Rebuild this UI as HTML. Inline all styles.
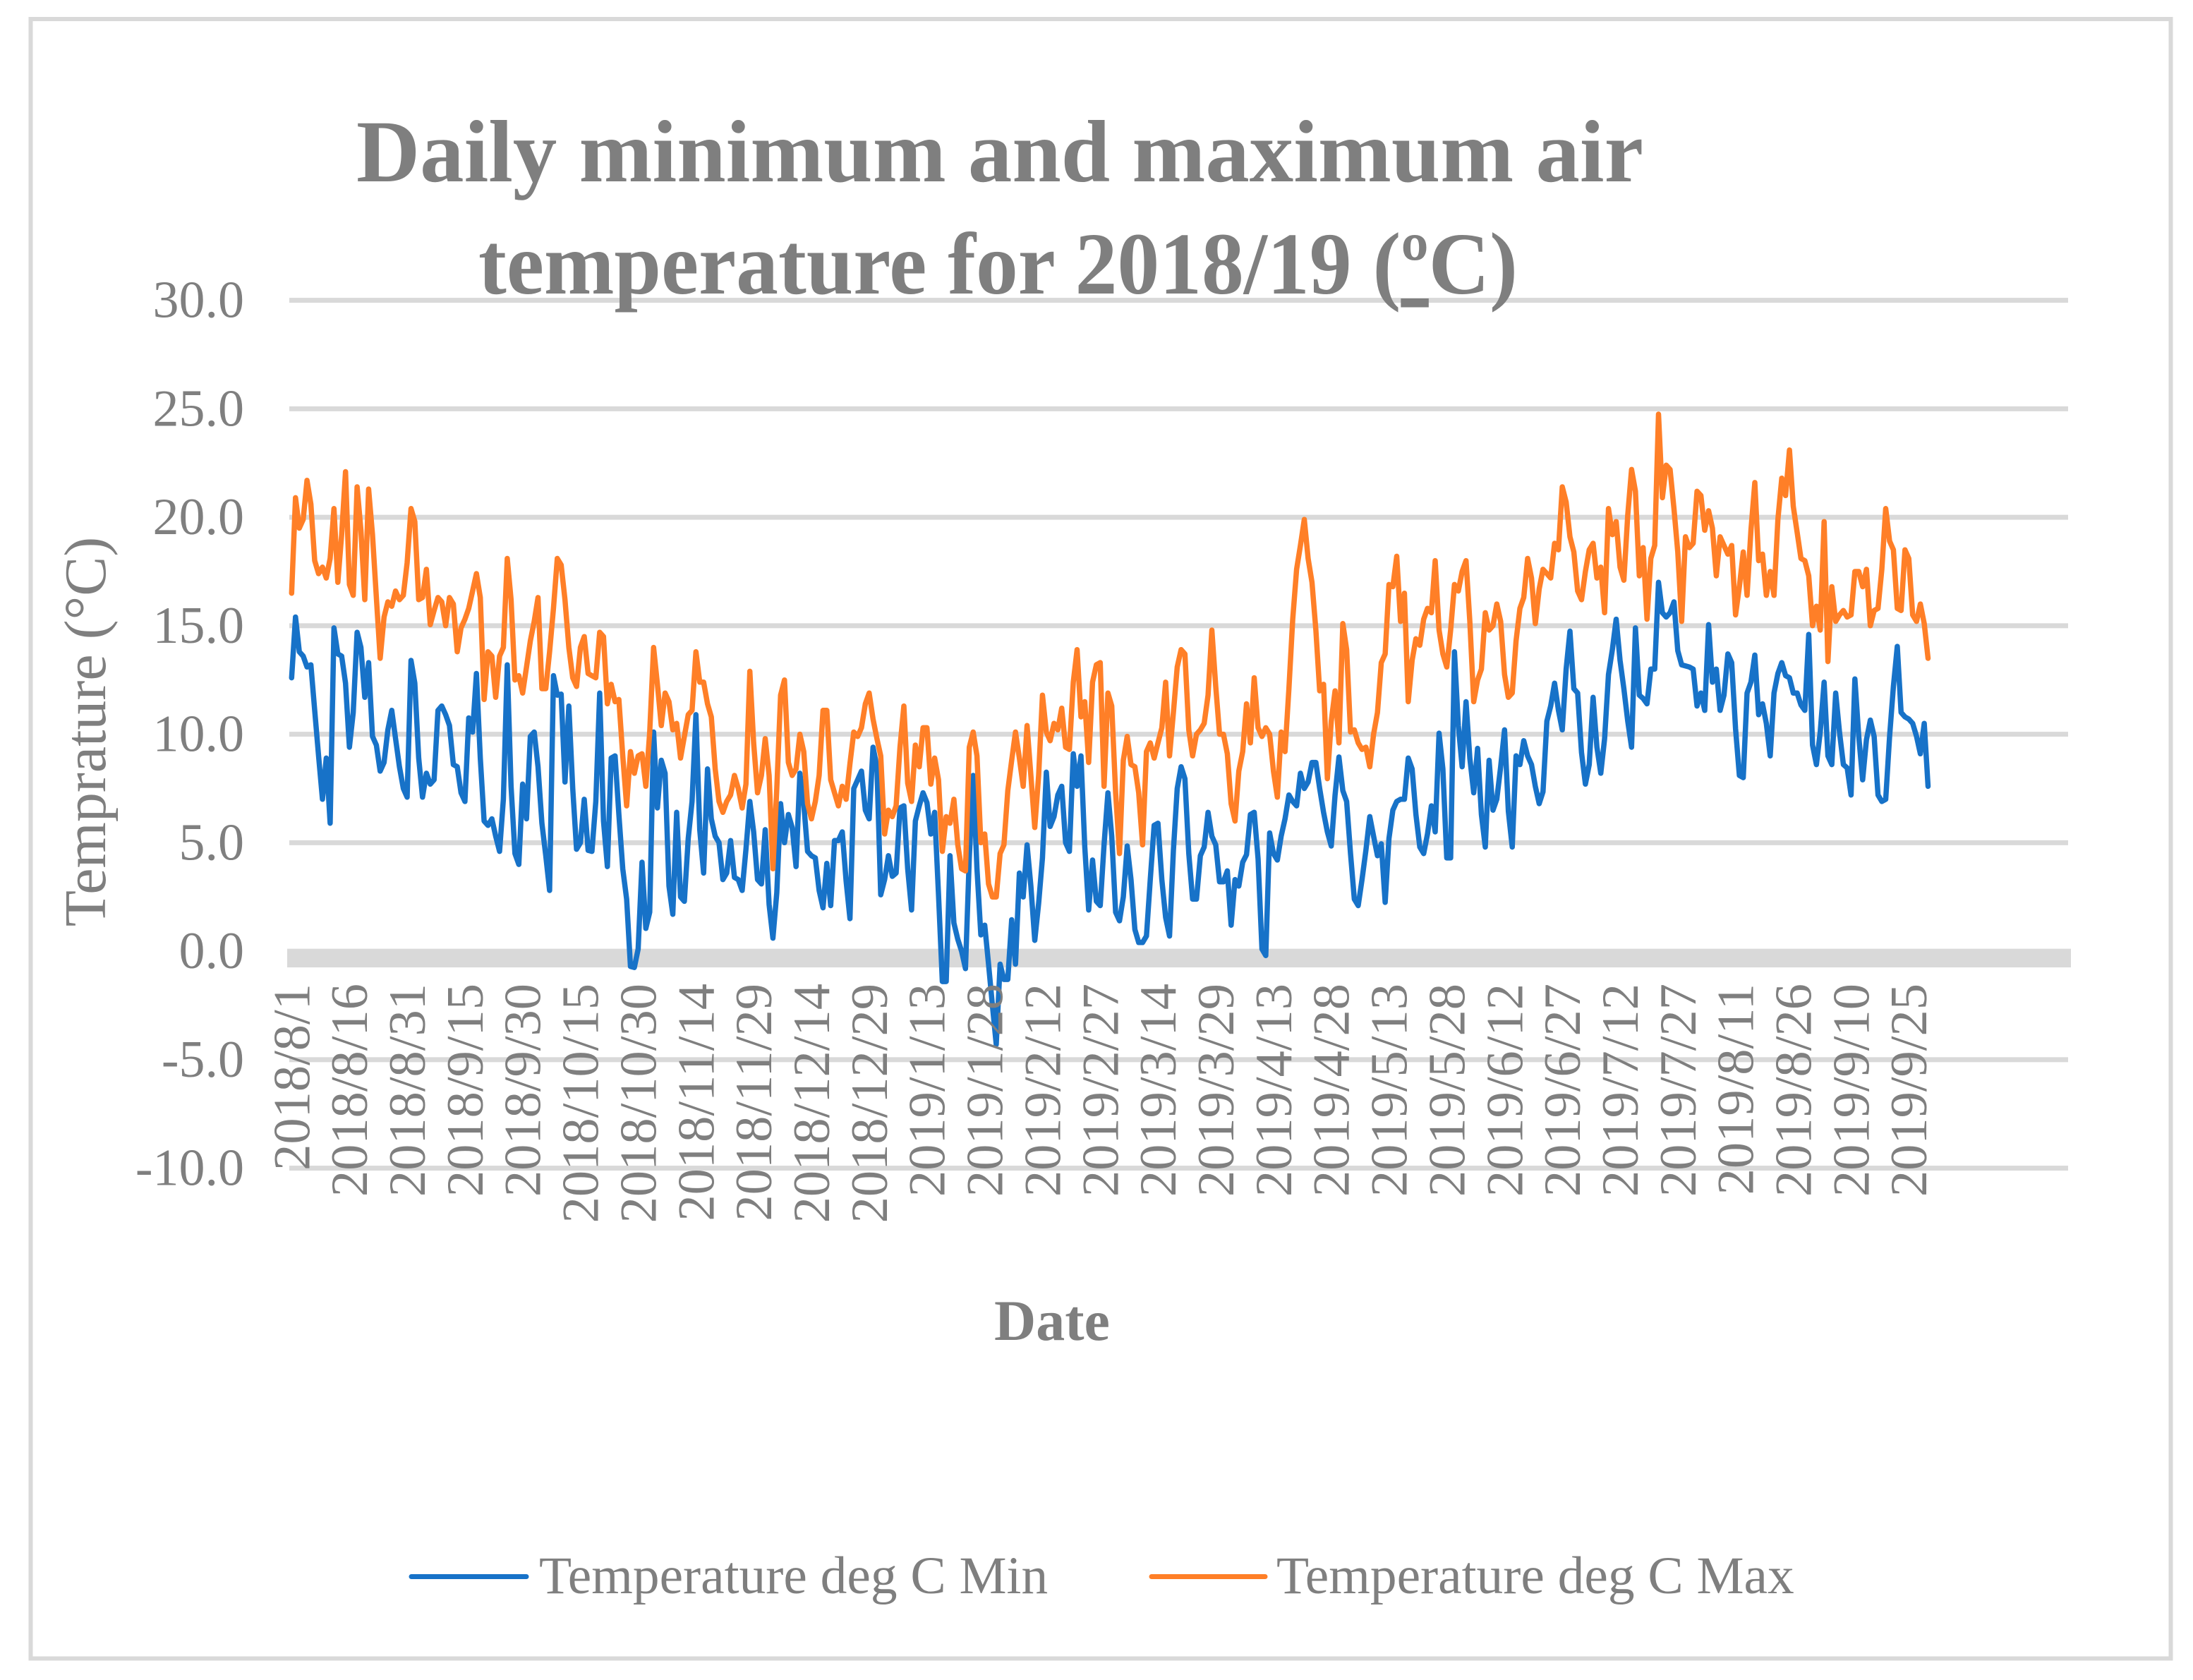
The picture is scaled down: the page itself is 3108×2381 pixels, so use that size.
<!DOCTYPE html>
<html lang="en">
<head>
<meta charset="utf-8">
<title>Daily minimum and maximum air temperature for 2018/19</title>
<style>
  html, body { margin: 0; padding: 0; background: #ffffff; }
  svg { display: block; }
  text { font-family: "Liberation Serif", serif; fill: #7f7f7f; }
</style>
</head>
<body>
<svg id="chart" xmlns="http://www.w3.org/2000/svg" width="3108" height="2381" viewBox="0 0 3108 2381">
  <rect x="0" y="0" width="3108" height="2381" fill="#ffffff"/>
  <rect x="43.5" y="27" width="3033" height="2323.5" fill="none" stroke="#d9d9d9" stroke-width="6"/>
  <g id="grid"></g>
  <g id="series"></g>
  <g id="yticks"></g>
  <g id="xticks"></g>
  <text x="505" y="257" font-size="125" font-weight="700" textLength="1824" lengthAdjust="spacingAndGlyphs">Daily minimum and maximum air</text>
  <text x="678" y="416" font-size="125" font-weight="700" textLength="1473" lengthAdjust="spacingAndGlyphs">temperature for 2018/19 (<tspan text-decoration="underline">º</tspan>C)</text>
  <text transform="translate(149 1037) rotate(-90)" font-size="84" text-anchor="middle">Temprature (°C)</text>
  <text x="1491" y="1899" font-size="82" font-weight="700" text-anchor="middle">Date</text>
  <g>
    <line x1="583" y1="2234.5" x2="746" y2="2234.5" stroke="#1772c8" stroke-width="7" stroke-linecap="round"/>
    <text x="764" y="2258" font-size="75.4">Temperature deg C Min</text>
    <line x1="1632" y1="2234.5" x2="1793" y2="2234.5" stroke="#ff7f27" stroke-width="7" stroke-linecap="round"/>
    <text x="1809" y="2258" font-size="75.4">Temperature deg C Max</text>
  </g>
</svg>
<script>
const tickStep = 15;
const xTickLabels = ["2018/8/1","2018/8/16","2018/8/31","2018/9/15","2018/9/30","2018/10/15","2018/10/30","2018/11/14","2018/11/29","2018/12/14","2018/12/29","2019/1/13","2019/1/28","2019/2/12","2019/2/27","2019/3/14","2019/3/29","2019/4/13","2019/4/28","2019/5/13","2019/5/28","2019/6/12","2019/6/27","2019/7/12","2019/7/27","2019/8/11","2019/8/26","2019/9/10","2019/9/25"];
const yTickValues = [30,25,20,15,10,5,0,-5,-10];
const tempMin = [
12.6,15.4,13.8,13.6,13.1,13.2,11.1,9.0,7.0,8.9,
5.9,14.9,13.7,13.6,12.35,9.4,11.0,14.7,14.0,11.7,
13.3,9.9,9.5,8.3,8.7,10.2,11.1,9.8,8.5,7.5,
7.1,13.4,12.35,8.9,7.1,8.2,7.7,7.9,11.1,11.3,
10.9,10.4,8.6,8.5,7.3,6.9,10.75,10.1,12.8,8.9,
6.0,5.8,6.1,5.3,4.6,7.0,13.2,7.6,4.5,4.0,
7.7,6.1,9.9,10.1,8.5,5.9,4.4,2.8,12.7,11.8,
11.85,7.8,11.3,7.5,4.7,5.0,7.0,4.65,4.6,6.9,
11.9,6.0,3.9,8.9,9.0,6.3,3.8,2.4,-0.7,-0.75,
0.1,4.1,1.05,1.8,10.1,6.6,8.8,8.2,3.0,1.7,
6.4,2.5,2.3,5.2,6.9,10.9,5.6,3.6,8.4,6.1,
5.3,5.0,3.3,3.6,5.1,3.4,3.3,2.8,4.7,6.9,
5.5,3.3,3.1,5.6,2.15,0.6,2.7,6.8,5.0,6.3,
5.7,3.9,8.2,6.8,4.6,4.4,4.3,2.8,2.0,4.05,
2.1,5.1,5.1,5.5,3.25,1.5,7.5,7.9,8.3,6.5,
6.1,9.4,8.5,2.6,3.3,4.4,3.45,3.6,6.6,6.7,
3.8,1.9,6.0,6.7,7.3,6.85,5.4,6.4,2.6,-1.4,
-1.4,4.4,1.3,0.55,0.0,-0.8,4.3,8.1,3.8,0.75,
1.2,-0.6,-2.5,-4.3,-0.6,-1.3,-1.3,1.45,-0.6,3.6,
2.5,4.9,3.0,0.5,2.2,4.3,8.25,5.75,6.2,7.2,
7.6,5.0,4.6,9.1,7.6,9.0,4.8,1.9,4.2,2.3,
2.1,4.9,7.3,5.3,1.8,1.4,2.5,4.85,3.3,1.0,
0.4,0.4,0.7,3.3,5.8,5.9,3.3,1.55,0.7,4.65,
7.5,8.5,7.95,4.5,2.4,2.4,4.4,4.8,6.4,5.3,
4.9,3.2,3.2,3.7,1.2,3.3,3.0,4.1,4.45,6.3,
6.4,4.25,0.1,-0.2,5.45,4.5,4.2,5.3,6.1,7.2,
6.9,6.7,8.2,7.5,7.8,8.7,8.7,7.5,6.4,5.5,
4.85,7.2,8.95,7.4,6.9,4.5,2.4,2.1,3.3,4.65,
6.2,5.3,4.4,4.95,2.25,5.2,6.5,6.9,7.0,7.0,
8.9,8.4,6.3,4.8,4.5,5.4,6.7,5.5,10.05,8.4,
4.3,4.3,13.8,10.4,8.5,11.5,8.9,7.3,9.35,6.3,
4.8,8.8,6.5,7.0,8.5,10.2,6.45,4.8,9.0,8.6,
9.7,9.0,8.6,7.6,6.8,7.35,10.6,11.3,12.35,11.1,
10.2,13.0,14.75,12.1,11.9,9.15,7.7,8.6,11.7,9.4,
8.2,9.8,12.75,13.9,15.3,13.4,12.1,10.6,9.4,14.9,
11.8,11.65,11.4,13.0,13.0,17.0,15.6,15.4,15.6,16.1,
13.85,13.2,13.15,13.1,13.0,11.3,11.9,11.1,15.05,12.4,
13.0,11.1,11.8,13.7,13.3,10.25,8.1,8.0,11.9,12.4,
13.65,10.9,11.4,10.5,9.0,11.9,12.8,13.3,12.7,12.6,
11.9,11.9,11.35,11.1,14.6,9.5,8.6,10.1,12.4,9.0,
8.6,11.9,10.1,8.6,8.45,7.2,12.55,9.9,7.9,9.75,
10.65,9.9,7.2,6.9,7.0,9.9,12.2,14.05,11.0,10.8,
10.7,10.5,9.9,9.1,10.5,7.6
];
const tempMax = [
16.5,20.9,19.5,19.9,21.7,20.6,18.0,17.4,17.7,17.2,
18.1,20.4,17.0,19.2,22.1,16.9,16.4,21.4,19.4,16.2,
21.3,19.2,16.3,13.5,15.4,16.1,15.9,16.6,16.2,16.4,
17.9,20.4,19.8,16.2,16.3,17.6,15.05,15.7,16.3,16.1,
15.0,16.3,16.0,13.8,14.9,15.3,15.8,16.6,17.4,16.3,
11.6,13.8,13.6,11.7,13.6,14.0,18.1,16.2,12.5,12.7,
11.9,13.1,14.3,15.2,16.3,12.1,12.1,13.8,15.8,18.1,
17.8,16.2,14.0,12.6,12.2,14.0,14.5,12.8,12.7,12.6,
14.7,14.5,11.4,12.3,11.5,11.6,9.0,6.7,9.2,8.2,
9.0,9.1,7.6,10.1,14.0,12.3,10.4,11.9,11.5,10.2,
10.5,8.9,9.9,10.9,11.1,13.8,12.4,12.4,11.4,10.8,
8.4,6.9,6.4,6.9,7.2,8.1,7.5,6.6,7.7,12.9,
9.6,7.3,8.1,9.8,8.1,3.8,7.5,11.8,12.5,8.7,
8.1,8.4,10.0,9.2,6.8,6.1,6.9,8.1,11.1,11.1,
7.9,7.3,6.7,7.6,7.0,8.65,10.1,9.9,10.3,11.4,
11.9,10.7,9.8,9.0,5.4,6.5,6.2,6.7,9.4,11.3,
7.75,6.9,9.5,8.5,10.3,10.3,7.7,8.9,7.9,4.6,
6.2,5.9,7.0,4.9,3.8,3.7,9.4,10.1,9.0,5.0,
5.4,3.1,2.5,2.5,4.5,4.9,7.4,8.8,10.1,8.9,
7.6,10.4,8.1,5.7,8.1,11.8,10.1,9.7,10.5,10.2,
11.2,9.4,9.3,12.4,13.9,10.8,11.5,8.7,12.4,13.2,
13.3,7.6,11.9,11.3,7.3,4.5,8.8,9.9,8.6,8.5,
7.3,4.9,9.2,9.6,8.9,9.6,10.3,12.4,9.0,11.0,
13.1,13.9,13.7,10.2,9.0,10.0,10.2,10.5,11.8,14.8,
12.2,10.0,10.0,9.1,6.8,6.0,8.3,9.2,11.4,9.6,
12.6,10.3,9.9,10.3,10.0,8.3,7.1,10.1,9.2,12.1,
15.3,17.6,18.7,19.9,18.1,17.0,14.8,12.0,12.3,7.95,
10.6,12.0,9.6,15.1,13.9,10.1,10.2,9.6,9.3,9.4,
8.5,10.0,11.0,13.3,13.7,16.9,16.8,18.2,15.2,16.5,
11.5,13.4,14.4,14.1,15.3,15.8,15.6,18.0,14.8,13.7,
13.1,14.8,16.9,16.6,17.5,18.0,15.2,11.5,12.5,13.0,
15.6,14.8,15.0,16.0,15.2,12.75,11.7,11.9,14.3,15.8,
16.3,18.1,17.2,15.1,16.7,17.6,17.4,17.2,18.8,18.5,
21.4,20.7,19.1,18.4,16.6,16.2,17.5,18.5,18.8,17.2,
17.7,15.6,20.4,19.2,19.8,17.7,17.1,20.1,22.2,21.2,
17.3,18.6,15.3,18.1,18.7,24.75,20.9,22.4,22.2,20.4,
18.4,15.2,19.1,18.6,18.8,21.2,21.0,19.4,20.3,19.5,
17.3,19.1,18.7,18.3,18.7,15.5,16.8,18.4,16.4,19.4,
21.6,18.0,18.3,16.4,17.5,16.4,19.9,21.8,21.0,23.1,
20.5,19.3,18.1,18.0,17.3,15.0,15.9,14.8,19.8,13.35,
16.8,15.2,15.5,15.7,15.4,15.5,17.5,17.5,16.8,17.6,
15.0,15.7,15.8,17.6,20.4,18.9,18.5,15.8,15.7,18.5,
18.1,15.5,15.2,16.0,15.1,13.5
];

const NS = 'http://www.w3.org/2000/svg';
function xAt(dayIndex) { return 413.3 + 5.457 * dayIndex; }
function yAt(value) { return 1348.1 - 30.75 * value; }

const gridGroup = document.getElementById('grid');
const seriesGroup = document.getElementById('series');
const yTickGroup = document.getElementById('yticks');
const xTickGroup = document.getElementById('xticks');

yTickValues.forEach(function (v) {
  const r = document.createElementNS(NS, 'rect');
  
  
  if (v === 0) {
    r.setAttribute('x', 407);
    r.setAttribute('y', yAt(v) - 3.5);
    r.setAttribute('width', 2528);
    r.setAttribute('height', 26.5);
  } else {
    r.setAttribute('x', 410);
    r.setAttribute('y', yAt(v) - 3.5);
    r.setAttribute('width', 2521);
    r.setAttribute('height', 7);
  }
  r.setAttribute('fill', '#d9d9d9');
  gridGroup.appendChild(r);

  const t = document.createElementNS(NS, 'text');
  
  
  t.setAttribute('x', 346);
  t.setAttribute('y', yAt(v) + 24);
  t.setAttribute('font-size', 74);
  t.setAttribute('text-anchor', 'end');
  t.textContent = v.toFixed(1);
  yTickGroup.appendChild(t);
});

function drawSeries(values, color, name) {
  const p = document.createElementNS(NS, 'polyline');
  
  
  p.setAttribute('points', values.map(function (v, i) {
    return xAt(i).toFixed(1) + ',' + yAt(v).toFixed(1);
  }).join(' '));
  p.setAttribute('fill', 'none');
  p.setAttribute('stroke', color);
  p.setAttribute('stroke-width', 7.5);
  p.setAttribute('stroke-linejoin', 'round');
  p.setAttribute('stroke-linecap', 'round');
  seriesGroup.appendChild(p);
}
drawSeries(tempMin, '#1772c8', 'series-temperature-min');
drawSeries(tempMax, '#ff7f27', 'series-temperature-max');

xTickLabels.forEach(function (label, k) {
  const t = document.createElementNS(NS, 'text');
  
  
  t.setAttribute('transform', 'translate(' + (xAt(k * tickStep) + 25).toFixed(1) + ' 1394) rotate(-90)');
  t.setAttribute('font-size', 74.5);
  t.setAttribute('text-anchor', 'end');
  t.textContent = label;
  xTickGroup.appendChild(t);
});
</script>
</body>
</html>
